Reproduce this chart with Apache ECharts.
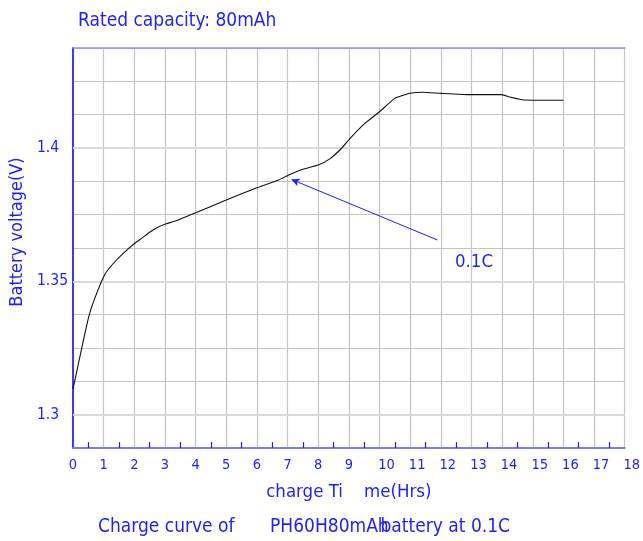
<!DOCTYPE html>
<html>
<head>
<meta charset="utf-8">
<script src="https://cdn.jsdelivr.net/npm/echarts@6/dist/echarts.min.js"></script>
<style>
html,body{margin:0;padding:0;background:#fff;}
#c{width:643px;height:541px;}
</style>
</head>
<body>
<div id="c"></div>
<script>
// ---- data ----
const timeHrs = [0, 0.5, 0.71, 1.06, 1.42, 1.79, 2.0, 2.25, 2.5, 2.75, 3.04, 3.36, 4.0, 5.0, 6.0, 6.71, 7.04, 7.5, 8.0, 8.39, 8.77, 9.04, 9.53, 10.0, 10.5, 11.0, 11.42, 12.0, 13.0, 13.98, 14.28, 14.72, 16.0];
const voltage = [1.3096, 1.3361, 1.3436, 1.353, 1.358, 1.3621, 1.3641, 1.3662, 1.3684, 1.3702, 1.3716, 1.3727, 1.3757, 1.3805, 1.3851, 1.388, 1.3899, 1.392, 1.3936, 1.396, 1.4, 1.4036, 1.4093, 1.4136, 1.4186, 1.4205, 1.4209, 1.4205, 1.42, 1.42, 1.419, 1.418, 1.4179];
const majorVoltTicks = [1.3, 1.35, 1.4];
const arrowFrom = [11.89, 1.3655];
const arrowTo = [7.13, 1.3882];

const titleText = 'Rated capacity: 80mAh';
const yName = 'Battery voltage(V)';
const xName = 'charge Ti    me(Hrs)';
const capPart1 = 'Charge curve of';
const capPart2 = 'PH60H80mAh';
const capPart3 = 'battery at 0.1C';
const annoText = '0.1C';

const BLUE = '#1e1eff';
const FONT = '"DejaVu Sans Condensed", "Liberation Sans", sans-serif';

const chart = echarts.init(document.getElementById('c'));
const xCommon = { type: 'value', min: 0, max: 18, interval: 1 };
const yCommon = { type: 'value', min: 1.2875, max: 1.4375, interval: 0.0125 };
const option = {
  animation: false,
  backgroundColor: '#fff',
  textStyle: { fontFamily: FONT },
  grid: { left: 73, top: 48, right: 14.3, bottom: 93 },
  xAxis: [{
    ...xCommon,
    axisLine: { lineStyle: { color: '#7b7bff', width: 2 } },
    axisTick: { show: false, inside: true },
    minorTick: { show: true, splitNumber: 2, length: 6, lineStyle: { color: '#2020e0', width: 1.2 } },
    splitLine: { show: true, lineStyle: { color: '#c4c4c4', width: 1.2 } },
    axisLabel: {
      margin: 10,
      formatter: v => (v >= 10 ? '{b|' + v + '}' : '{a|' + v + '}'),
      rich: {
        a: { color: BLUE, fontSize: 14.5, fontFamily: FONT },
        b: { color: BLUE, fontSize: 14.5, fontFamily: FONT, padding: [0, 0, 0, 14] }
      }
    },
    name: xName, nameLocation: 'middle', nameGap: 35,
    nameTextStyle: { color: BLUE, fontSize: 18.5, fontFamily: FONT }
  }, {
    ...xCommon, position: 'top',
    axisLine: { show: true, lineStyle: { color: '#8c8cff', width: 1.5 } },
    axisTick: { show: false }, axisLabel: { show: false }, splitLine: { show: false }
  }],
  yAxis: [{
    ...yCommon,
    axisLine: { show: true, lineStyle: { color: '#7070ff', width: 2 } },
    axisTick: { show: false },
    splitLine: { show: true, lineStyle: { color: '#c4c4c4', width: 1.2 } },
    axisLabel: {
      color: BLUE, fontSize: 15.5, fontFamily: FONT, align: 'left', margin: 36,
      formatter: v => {
        const r = Math.round(v * 100) / 100;
        return majorVoltTicks.some(m => Math.abs(m - v) < 1e-6) ? String(r) : '';
      }
    }
  }, {
    ...yCommon, position: 'right',
    axisLine: { show: true, lineStyle: { color: '#2828ff', width: 1.5 } },
    axisTick: { show: false }, axisLabel: { show: false }, splitLine: { show: false }
  }],
  series: [{
    type: 'line',
    data: timeHrs.map((t, i) => [t, voltage[i]]),
    smooth: 0.15,
    symbol: 'none',
    lineStyle: { color: '#111', width: 1.1 },
    z: 3
  }, {
    type: 'line',
    data: [],
    z: 1,
    markLine: {
      silent: true, symbol: 'none', z: 1,
      label: { show: false },
      lineStyle: { color: '#d9d9d9', width: 2.2, type: 'solid' },
      data: majorVoltTicks.map(v => ({ yAxis: v }))
    }
  }, {
    type: 'line',
    data: [],
    markLine: {
      silent: true,
      symbol: ['none', 'arrow'], symbolSize: [6, 8],
      label: { show: false },
      lineStyle: { color: '#1e1eff', width: 1, type: 'solid' },
      data: [[{ coord: arrowFrom }, { coord: arrowTo }]]
    }
  }],
  graphic: [
    { type: 'text', left: 78, top: 12, style: { text: titleText, fill: BLUE, font: '19px ' + FONT } },
    { type: 'text', x: 17, y: 232, rotation: Math.PI / 2, style: { text: yName, fill: BLUE, font: '18px ' + FONT, textAlign: 'center', textVerticalAlign: 'middle' } },
    { type: 'text', x: 455, y: 262, style: { text: annoText, fill: BLUE, font: '18.5px ' + FONT, textAlign: 'left', textVerticalAlign: 'middle' } },
    { type: 'text', x: 98, y: 527, style: { text: capPart1, fill: BLUE, font: '19px ' + FONT, textAlign: 'left', textVerticalAlign: 'middle' } },
    { type: 'text', x: 270, y: 527, style: { text: capPart2, fill: BLUE, font: '19px ' + FONT, textAlign: 'left', textVerticalAlign: 'middle' } },
    { type: 'text', x: 510, y: 527, style: { text: capPart3, fill: BLUE, font: '19px ' + FONT, textAlign: 'right', textVerticalAlign: 'middle' } }
  ]
};
chart.setOption(option);
</script>
</body>
</html>
